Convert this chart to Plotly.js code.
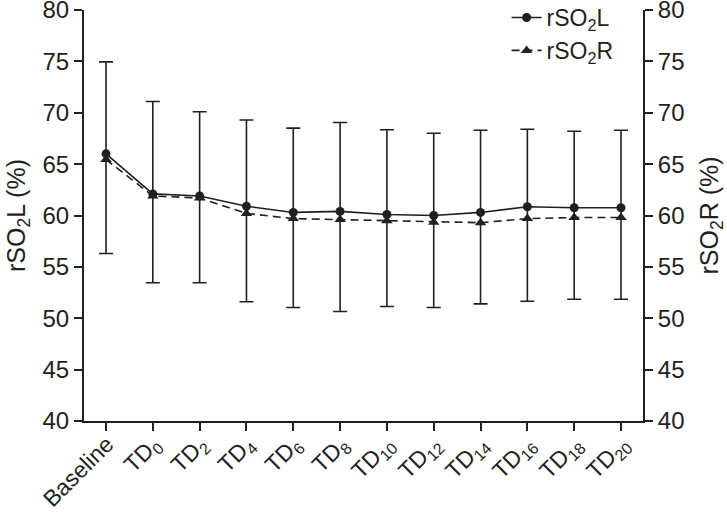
<!DOCTYPE html>
<html>
<head>
<meta charset="utf-8">
<script src="https://cdn.plot.ly/plotly-3.0.1.min.js"></script>
<style>
  html, body { margin: 0; padding: 0; background: #fff; }
  #wrap { position: relative; width: 727px; height: 513px; overflow: hidden; }
  #chart { width: 727px; height: 513px; }
  .xlab {
    position: absolute; white-space: nowrap;
    font-family: 'Liberation Sans', Arial, Helvetica, sans-serif;
    font-size: 23px; line-height: 26px; color: #231f20;
    transform-origin: 100% 0; transform: rotate(-45deg);
  }
  .xlab sub { font-size: 16px; line-height: 0; vertical-align: -5px; }
</style>
</head>
<body>
<div id="wrap"><div id="chart"></div></div>
<script>
// rSO2 left / right over time, mean with error bars
const categories = ['Baseline', 'TD0', 'TD2', 'TD4', 'TD6', 'TD8', 'TD10', 'TD12', 'TD14', 'TD16', 'TD18', 'TD20'];
const tickLabels = ['Baseline', 'TD<sub>0</sub>', 'TD<sub>2</sub>', 'TD<sub>4</sub>', 'TD<sub>6</sub>', 'TD<sub>8</sub>',
                    'TD<sub>10</sub>', 'TD<sub>12</sub>', 'TD<sub>14</sub>', 'TD<sub>16</sub>', 'TD<sub>18</sub>', 'TD<sub>20</sub>'];

const rso2L = [66.0, 62.1, 61.9, 60.9, 60.3, 60.4, 60.1, 60.0, 60.3, 60.85, 60.75, 60.75];
const rso2R = [65.45, 61.9, 61.7, 60.2, 59.7, 59.6, 59.5, 59.35, 59.3, 59.7, 59.8, 59.8];

// error bar ends (upper / lower)
const errTop    = [74.95, 71.1, 70.1, 69.3, 68.5, 69.05, 68.35, 68.0, 68.3, 68.4, 68.2, 68.3];
const errBottom = [56.3, 53.45, 53.45, 51.6, 51.05, 50.65, 51.15, 51.05, 51.4, 51.65, 51.85, 51.85];

const xIdx = categories.map((c, i) => i);
const INK = '#231f20';
const FONT = 'Liberation Sans, Arial, Helvetica, sans-serif';

const traceL = {
  x: xIdx, y: rso2L, type: 'scatter', mode: 'lines+markers',
  name: 'rSO<sub>2</sub>L',
  line: { color: INK, width: 1.6 },
  marker: { symbol: 'circle', size: 9, color: INK },
  error_y: {
    type: 'data', symmetric: false,
    array: errTop.map((v, i) => v - rso2L[i]),
    arrayminus: errBottom.map((v, i) => rso2L[i] - v),
    color: INK, thickness: 1.6, width: 7
  }
};

const traceR = {
  x: xIdx, y: rso2R, type: 'scatter', mode: 'lines+markers',
  name: 'rSO<sub>2</sub>R', yaxis: 'y2',
  line: { color: INK, width: 1.6, dash: '8px,5px' },
  marker: { symbol: 'triangle-up', size: 10, color: INK }
};

const yCommon = {
  range: [40, 80], dtick: 5, tick0: 40,
  showgrid: false, zeroline: false,
  showline: true, linecolor: INK, linewidth: 2,
  ticks: 'outside', ticklen: 8, tickwidth: 2, tickcolor: INK,
  ticklabeloverflow: 'allow',
  tickfont: { family: FONT, size: 24, color: INK }
};

const layout = {
  width: 727, height: 513,
  margin: { l: 84, r: 84, t: 10, b: 92, autoexpand: false },
  paper_bgcolor: '#fff', plot_bgcolor: '#fff',
  showlegend: true,
  legend: {
    x: 0.756, y: 1.034, xanchor: 'left', yanchor: 'top',
    font: { family: FONT, size: 23, color: INK },
    bgcolor: 'rgba(0,0,0,0)', tracegroupgap: 0
  },
  xaxis: {
    range: [-0.47, 11.47],
    tickmode: 'array', tickvals: xIdx, showticklabels: false,
    showgrid: false, zeroline: false,
    showline: true, linecolor: INK, linewidth: 2,
    ticks: 'outside', ticklen: 8, tickwidth: 2, tickcolor: INK
  },
  yaxis: Object.assign({}, yCommon, {
    title: { text: 'rSO<sub>2</sub>L (%)', font: { family: FONT, size: 25, color: INK }, standoff: 10 }
  }),
  yaxis2: Object.assign({}, yCommon, {
    overlaying: 'y', side: 'right',
    title: { text: 'rSO<sub>2</sub>R (%)', font: { family: FONT, size: 25, color: INK }, standoff: 18 }
  })
};

// angled x labels as HTML placed from the x axis scale
// (SVG-rotated labels came out flat in this renderer)
function drawXLabels(gd) {
  const xa = gd._fullLayout.xaxis, ya = gd._fullLayout.yaxis;
  const wrap = document.getElementById('wrap');
  const axisY = ya._offset + ya._length;
  const W = gd._fullLayout.width;
  tickLabels.forEach((lab, i) => {
    const px = xa._offset + xa.l2p(xIdx[i]) - 6;
    const d = document.createElement('div');
    d.className = 'xlab';
    d.innerHTML = lab;
    d.style.right = (W - px) + 'px';
    d.style.top = (axisY + 10) + 'px';
    wrap.appendChild(d);
  });
}

Plotly.newPlot('chart', [traceL, traceR], layout, { staticPlot: true }).then(drawXLabels);
</script>
</body>
</html>
